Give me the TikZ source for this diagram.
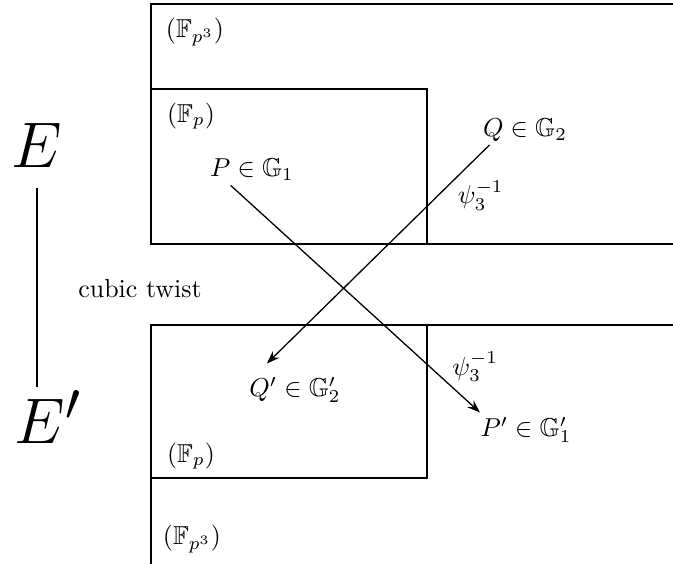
\documentclass[tikz,border=0pt]{standalone}
\usepackage{amssymb}
\usetikzlibrary{arrows.meta}
\tikzset{
  curve/.style={font=\Huge,inner sep=0pt},
  pt/.style={inner sep=0pt},
  fld/.style={inner sep=0pt},
  bigbox/.style={line width=0.9pt},
  smallbox/.style={line width=0.7pt},
  psimap/.style={line width=0.5pt,-{Stealth[length=5pt,width=3.6pt]}}
}
\begin{document}
\begin{tikzpicture}[x=0.386pt,y=-0.386pt]
  \useasboundingbox (0,0) rectangle (673,564);
  % fields
  \draw[bigbox] (673,4) -- (151,4) -- (151,244) -- (673,244);
  \draw[smallbox] (151,89) -- (427,89) -- (427,244);
  \draw[bigbox] (673,325) -- (151,325) -- (151,564);
  \draw[smallbox] (151,325) -- (427,325) -- (427,478) -- (151,478);
  \node[fld] (Ft) at (195,32) {$(\mathbb{F}_{p^3})$};
  \node[fld] (Fpt) at (191,116) {$(\mathbb{F}_p)$};
  \node[fld] (Fpb) at (191,456) {$(\mathbb{F}_p)$};
  \node[fld] (Fb) at (192,539) {$(\mathbb{F}_{p^3})$};
  % curves
  \node[curve] (E) at (37,145) {$E$};
  \node[curve] (Ed) at (48,417) {$E'$};
  \draw[line width=0.5pt] ([yshift=-20*0.386pt]E.south) -- (E.south |- 0,387);
  \node (tw) at (140,289) {cubic twist};
  % points
  \node[pt] (P) at (252,170) {$P\in\mathbb{G}_1$};
  \node[pt] (Q) at (525,130) {$Q\in\mathbb{G}_2$};
  \node[pt] (Qd) at (295,390) {$Q'\in\mathbb{G}_2'$};
  \node[pt] (Pd) at (526,430) {$P'\in\mathbb{G}_1'$};
  \draw[psimap] ([shift={(7,3)}]Q.south west) -- node[pos=.23,anchor=west,xshift=4pt] {$\psi_3^{-1}$} ([shift={(18,-13)}]Qd.north west);
  \draw[psimap] ([shift={(21,4)}]P.south west) -- node[pos=.8,anchor=west,xshift=5pt] {$\psi_3^{-1}$} ([shift={(0,-4)}]Pd.north west);
\end{tikzpicture}
\end{document}
